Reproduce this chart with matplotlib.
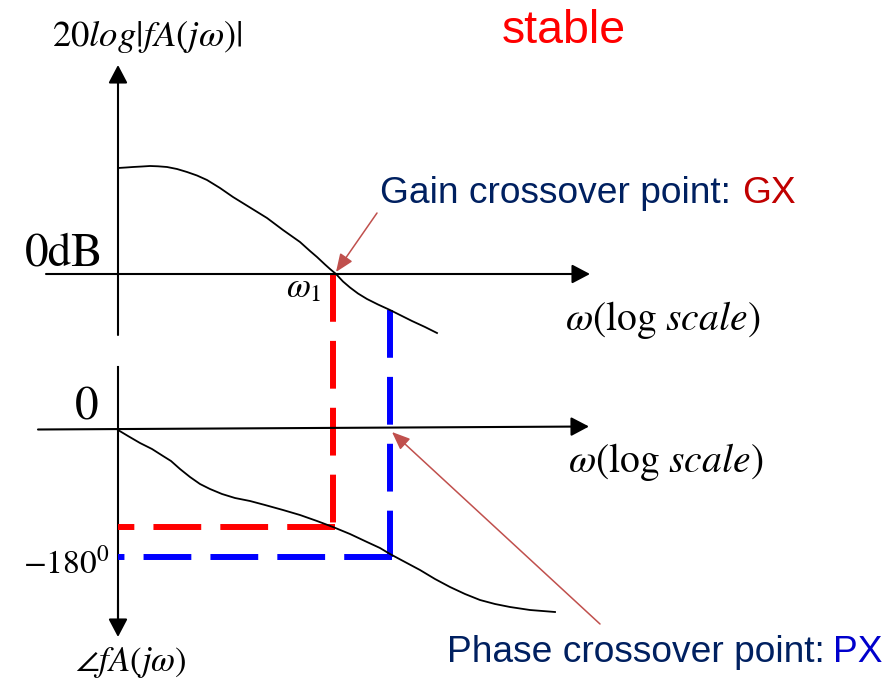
import numpy as np
import matplotlib
matplotlib.use("Agg")
import matplotlib.pyplot as plt

plt.rcParams['mathtext.fontset'] = 'stix'

# sketch coordinates (pixels, y grows downward)
mag_x = [118, 126, 133, 142, 150, 158, 167, 177, 187, 197, 207, 220, 233, 250, 267, 283, 300,
         310, 317, 325, 330, 336, 343, 350, 358, 367, 378, 390, 400, 412, 425, 437]
mag_y = [168, 167.5, 167, 166.5, 166, 166.3, 167, 169, 172, 175.5, 180, 188, 197, 207.5, 218,
         230, 242, 251, 257, 264.5, 269, 274, 281.5, 287.5, 293.5, 299, 304.5, 310, 315, 321,
         327, 333]

phase_x = [118, 128, 140, 152, 163, 171, 180, 190, 200, 210, 222, 235, 250, 265, 283, 300,
           317, 333, 350, 367, 380, 390, 405, 420, 435, 450, 465, 480, 495, 510, 530, 555]
phase_y = [430, 436, 443, 449, 456, 461, 469, 477, 484, 489, 494, 498, 501, 505, 510, 515,
           521, 527, 534, 542, 548, 554, 562, 570, 579, 587, 594, 600, 604, 607, 610, 612]

# crossover markers: (x, top of vertical, level of horizontal)
gx = (333, 274, 527)
px = (390, 310, 557)
y_axis_x = 118

fig = plt.figure(figsize=(8.96, 6.81), dpi=100)
ax = fig.add_axes([0, 0, 1, 1])
ax.set_xlim(0, 896)
ax.set_ylim(681, 0)
ax.axis('off')


def axis_arrow(tail, tip):
    ax.annotate('', xy=tip, xytext=tail,
                arrowprops=dict(arrowstyle='-|>,head_length=1.1,head_width=0.58',
                                mutation_scale=10, lw=1.5, color='black',
                                shrinkA=0, shrinkB=0))


def pointer(tail, tip):
    ax.annotate('', xy=tip, xytext=tail,
                arrowprops=dict(arrowstyle='-|>,head_length=1.1,head_width=0.45',
                                mutation_scale=10, lw=1.1, color='#c0504d',
                                shrinkA=0, shrinkB=0))


# magnitude plot axes
axis_arrow((118, 335), (118, 65))
axis_arrow((46, 274), (590, 274))
# phase plot axes
ax.plot([118, 118], [367, 625], color='black', lw=1.5)
axis_arrow((118, 600), (118, 637))
axis_arrow((38, 429.5), (589, 426.5))

# dashed guides
for (x, top, level), col in [(gx, '#ff0000'), (px, '#0000ff')]:
    ax.plot([x, x], [top, level], color=col, lw=4.3, dashes=(8, 3.2),
            solid_capstyle='butt', dash_capstyle='butt')
    ax.plot([x + 2, y_axis_x], [level, level], color=col, lw=4.3, dashes=(8, 3.2),
            solid_capstyle='butt', dash_capstyle='butt')

ax.plot(mag_x, mag_y, color='black', lw=1.3, solid_joinstyle='round')
ax.plot(phase_x, phase_y, color='black', lw=1.3, solid_joinstyle='round')

# pointers to the crossover points
pointer((377, 213), (336, 272))
pointer((600, 624), (392, 432))

# labels
ax.text(52, 46, r'$20log|fA(j\omega)|$', fontsize=26.5, va='baseline', ha='left')
ax.text(103, 265, '0dB', fontsize=34, family='STIXGeneral', va='baseline', ha='right')
ax.text(98, 420, '0', fontsize=34, family='STIXGeneral', va='baseline', ha='right')
ax.text(23, 573, r'$-180^0$', fontsize=24, va='baseline', ha='left')
ax.text(75, 671, r'$\angle fA(j\omega)$', fontsize=25, va='baseline', ha='left')
ax.text(286, 297, r'$\omega_1$', fontsize=25, va='baseline', ha='left')
ax.text(565, 330, r'$\omega(\log\,scale)$', fontsize=28.5, va='baseline', ha='left')
ax.text(568, 472, r'$\omega(\log\,scale)$', fontsize=28.5, va='baseline', ha='left')

sans = 'Liberation Sans'
ax.text(502, 43, 'stable', fontsize=33.5, family=sans, color='#ff0000',
        va='baseline', ha='left')
ax.text(380, 203, 'Gain crossover point: ', fontsize=26.7, family=sans,
        color='#002060', va='baseline', ha='left')
ax.text(796, 203, 'GX', fontsize=26.7, family=sans, color='#c00000',
        va='baseline', ha='right')
ax.text(447, 662, 'Phase crossover point: ', fontsize=26.7, family=sans,
        color='#002060', va='baseline', ha='left')
ax.text(882, 662, 'PX', fontsize=26.7, family=sans, color='#0000cc',
        va='baseline', ha='right')

fig.savefig('out.png', dpi=100)
